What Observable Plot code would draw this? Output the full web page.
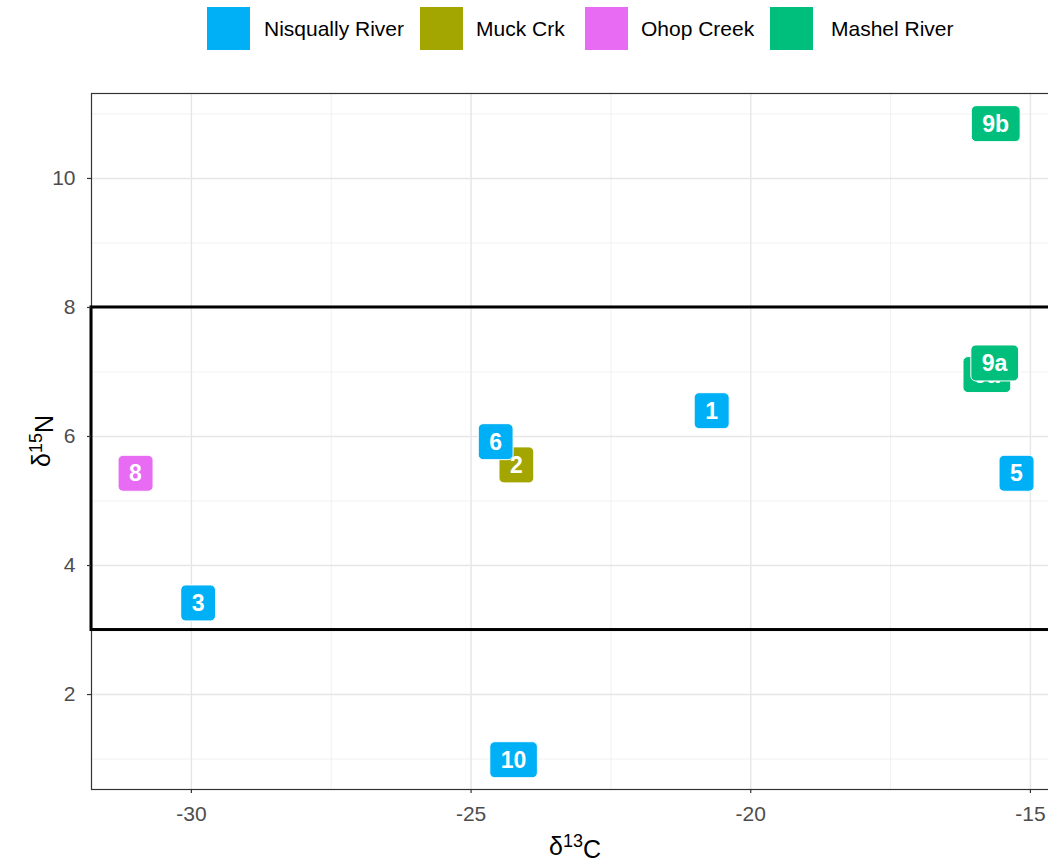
<!DOCTYPE html>
<html><head><meta charset="utf-8">
<script src="https://cdn.jsdelivr.net/npm/d3@7"></script>
<script src="https://cdn.jsdelivr.net/npm/@observablehq/plot@0.6"></script>
<style>
html,body{margin:0;padding:0;background:#fff;overflow:hidden;width:1048px;height:864px;}
body{font-family:"Liberation Sans",Arial,sans-serif;}
#legend{position:relative;height:60px;width:1048px;}
.key{position:absolute;top:7px;width:43px;height:43px;}
.lab{position:absolute;top:0;line-height:58px;font-size:21px;color:#000;white-space:nowrap;}
#chart svg{display:block;}
</style></head><body>
<div id="legend"></div><div id="chart"></div>
<script>
// ---- data ----
const sites = ["Nisqually River", "Muck Crk", "Ohop Creek", "Mashel River"];
const siteColors = ["#00B0F6", "#A3A500", "#E76BF3", "#00BF7D"];
const sampleLabels = ["1", "2", "3", "5", "6", "8", "9a", "9a", "9b", "10"];
const sampleSites = ["Nisqually River", "Muck Crk", "Nisqually River", "Nisqually River", "Nisqually River",
  "Ohop Creek", "Mashel River", "Mashel River", "Mashel River", "Nisqually River"];
const d13C = [-20.70, -24.19, -29.88, -15.25, -24.56, -31.00, -15.78, -15.64, -15.62, -24.24];
const d15N = [6.39, 5.55, 3.41, 5.42, 5.91, 5.42, 6.95, 7.13, 10.84, 0.98];
const xTicks = [-30, -25, -20, -15];
const xMinor = [-27.5, -22.5, -17.5];
const yTicks = [2, 4, 6, 8, 10];
const yMinor = [1, 3, 5, 7, 9, 11];
const boxLow = [3];
const boxHigh = [8];

const samples = sampleLabels.map((l, i) => ({label: l, site: sampleSites[i], c: d13C[i], n: d15N[i]}));
const band = boxLow.map((lo, i) => ({lo, hi: boxHigh[i]}));

// ---- legend ----
const keyLeft = [207, 420, 585, 770];
const textLeft = [264, 476, 641, 831];
const leg = d3.select("#legend");
sites.forEach((s, i) => {
  leg.append("div").attr("class", "key").style("left", keyLeft[i] + "px").style("background", siteColors[i]);
  leg.append("div").attr("class", "lab").style("left", textLeft[i] + "px").text(s);
});

// ---- chart ----
const xDomain = [-31.786, -14.48];
const yDomain = [0.528, 11.317];
const fontFam = '"Liberation Sans", Arial, sans-serif';
const plot = Plot.plot({
  width: 1060, height: 804,
  marginLeft: 91, marginRight: 1, marginTop: 33, marginBottom: 75,
  style: {fontFamily: fontFam, fontSize: "21px", color: "#4D4D4D", background: "#fff", maxWidth: "none", overflow: "visible"},
  x: {domain: xDomain, label: null},
  y: {domain: yDomain, label: null},
  color: {domain: sites, range: siteColors},
  marks: [
    Plot.gridX(xMinor, {stroke: "#EBEBEB", strokeOpacity: 1, strokeWidth: 0.7}),
    Plot.gridY(yMinor, {stroke: "#EBEBEB", strokeOpacity: 1, strokeWidth: 0.7}),
    Plot.gridX(xTicks, {stroke: "#E6E6E6", strokeOpacity: 1, strokeWidth: 1.4}),
    Plot.gridY(yTicks, {stroke: "#E6E6E6", strokeOpacity: 1, strokeWidth: 1.4}),
    Plot.frame({stroke: "#333333", strokeWidth: 1.2}),
    Plot.rect(band, {x1: () => xDomain[0], x2: () => xDomain[1], y1: "lo", y2: "hi", fill: "none", stroke: "#000", strokeWidth: 3}),
    Plot.axisX(xTicks, {tickSize: 4, tickPadding: 13, tickFormat: d => String(d), color: "#4D4D4D", stroke: "#333333", strokeWidth: 1.2, label: null}),
    Plot.axisY(yTicks, {tickSize: 4, tickPadding: 12, tickFormat: d => String(d), color: "#4D4D4D", stroke: "#333333", strokeWidth: 1.2, label: null}),
    Plot.text(samples, {x: "c", y: "n", text: "label", fill: "site", fontWeight: "bold", fontSize: 23})
  ]
});
document.getElementById("chart").appendChild(plot);

// label boxes (geom_label style) behind each text
const svg = d3.select(plot);
svg.selectAll('g[aria-label="text"] text').each(function () {
  const t = this;
  const bb = t.getBBox();
  const fill = t.getAttribute("fill");
  const w = bb.width + 22, h = 36;
  const cx = bb.x + bb.width / 2, cy = bb.y + bb.height / 2;
  const r = document.createElementNS("http://www.w3.org/2000/svg", "rect");
  r.setAttribute("x", cx - w / 2);
  r.setAttribute("y", cy - h / 2);
  r.setAttribute("width", w);
  r.setAttribute("height", h);
  r.setAttribute("rx", 5);
  r.setAttribute("fill", fill);
  r.setAttribute("stroke", "#fff");
  r.setAttribute("stroke-width", 1);
  if (t.getAttribute("transform")) r.setAttribute("transform", t.getAttribute("transform"));
  t.parentNode.insertBefore(r, t);
  t.setAttribute("fill", "#fff");
});

// axis titles with superscripts
const xt = svg.append("text").attr("x", 575).attr("y", 795).attr("text-anchor", "middle")
  .style("font-family", fontFam).style("font-size", "25px").attr("fill", "#000");
xt.append("tspan").text("δ");
xt.append("tspan").attr("dy", "-0.45em").style("font-size", "18px").text("13");
xt.append("tspan").attr("dy", "0.45em").text("C");

const yt = svg.append("text").attr("transform", "translate(50,381) rotate(-90)").attr("text-anchor", "middle")
  .style("font-family", fontFam).style("font-size", "25px").attr("fill", "#000");
yt.append("tspan").text("δ");
yt.append("tspan").attr("dy", "-0.45em").style("font-size", "18px").text("15");
yt.append("tspan").attr("dy", "0.45em").text("N");
</script>
</body></html>
